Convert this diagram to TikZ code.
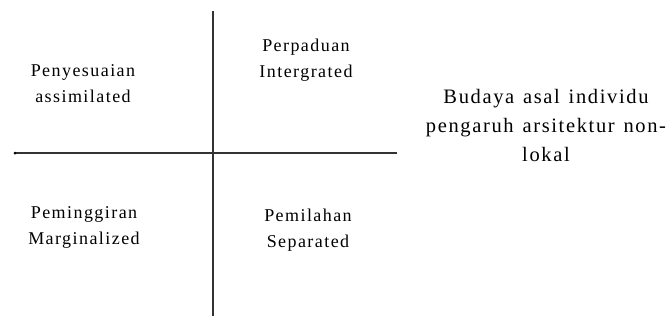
\documentclass[tikz,border=0pt]{standalone}
\usepackage{fontspec}
\setmainfont[LetterSpace=8,WordSpace=1.3]{Liberation Serif}
\begin{document}
\begin{tikzpicture}[x=1pt,y=-1pt,
  lbl/.style={align=center,font=\fontsize{18}{26}\selectfont,inner sep=0pt},
  axis/.style={line width=1.8pt,draw=black!80}]
\useasboundingbox (0,0) rectangle (670,324);
\coordinate (L) at (15,153);
\coordinate (R) at (397,153);
\coordinate (T) at (213,11);
\coordinate (B) at (213,316);
\draw[axis] (L) -- (R);
\draw[axis] (T) -- (B);
\fill (L) circle (1.5);
\node[lbl] (q1) at (83,84) {Penyesuaian\\assimilated};
\node[lbl] (q2) at (306,60) {Perpaduan\\Intergrated};
\node[lbl] (q3) at (84,227) {Peminggiran\\Marginalized};
\node[lbl] (q4) at (308,230) {Pemilahan\\Separated};
\node[lbl,font=\fontsize{20.5}{29}\selectfont] (r) at (546,125) {Budaya asal individu\\pengaruh arsitektur non-\\lokal};
\end{tikzpicture}
\end{document}
